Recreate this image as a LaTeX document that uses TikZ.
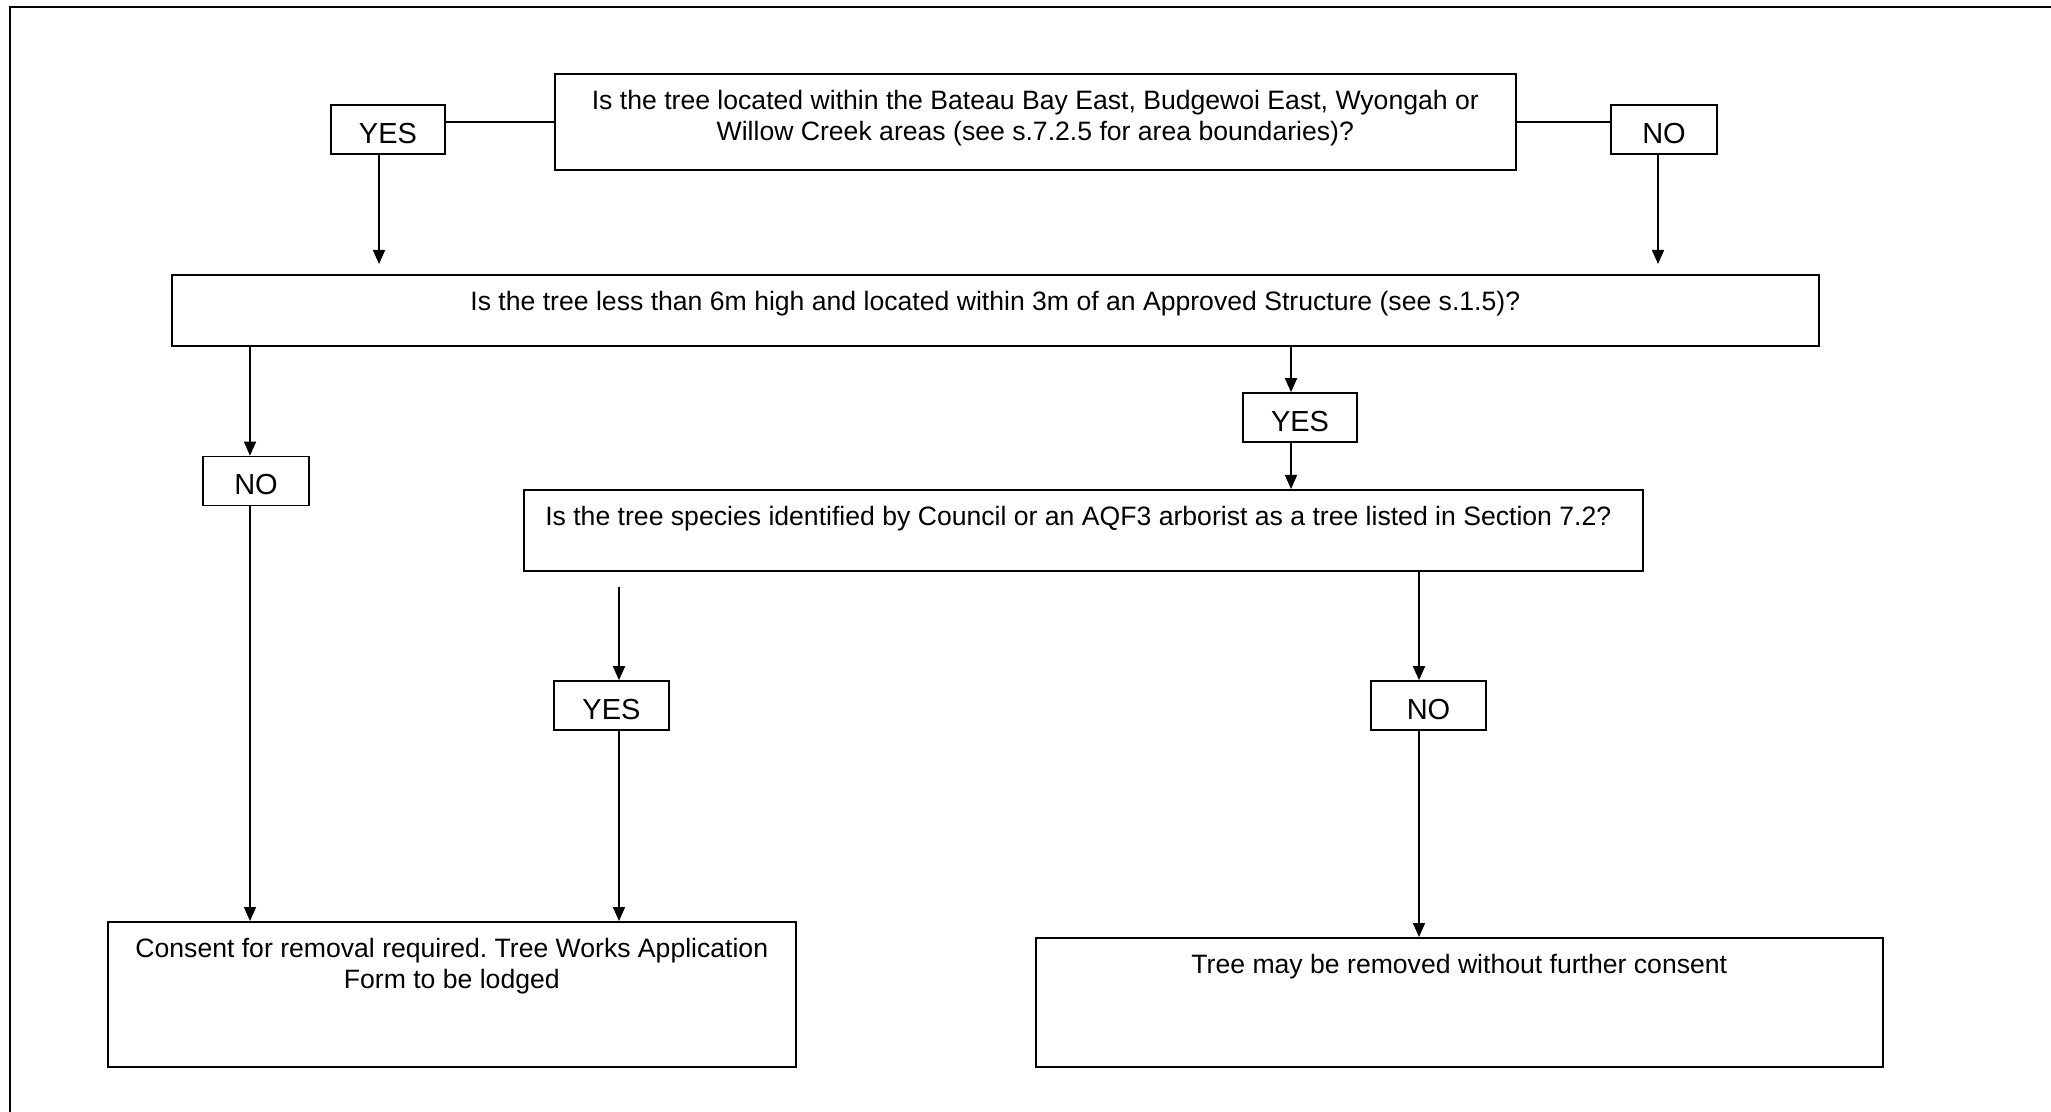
\documentclass[tikz,border=0pt]{standalone}
\usepackage{fontspec}
\setmainfont{Liberation Sans}
\usetikzlibrary{arrows.meta,positioning}
\frenchspacing

\tikzset{
    box/.style={draw, line width=0.8pt, anchor=north west, inner sep=0pt},
    boxtext/.style={anchor=north, align=center, font=\fontsize{13.3}{15.5}\selectfont},
    answer/.style={draw, line width=0.8pt, minimum height=24.5pt, text height=13.9pt, text depth=0pt, font=\fontsize{14.5}{16}\selectfont},
    flow/.style={line width=0.8pt, -{Triangle[length=7pt,width=6pt]}}
}

\begin{document}
\begin{tikzpicture}[x=0.5pt,y=-0.5pt]
    \useasboundingbox (0,0) rectangle (2051,1112);
    \draw[line width=0.8pt] (10,1112) -- (10,7) -- (2051,7);
    % questions
    \node[box, minimum width=480.5pt, minimum height=48pt] (q1) at (554,73) {};
    \node[boxtext] (q1text) at ([yshift=-5pt]q1.north) {Is the tree located within the Bateau Bay East, Budgewoi East, Wyongah or\\Willow Creek areas (see s.7.2.5 for area boundaries)?};
    \node[box, minimum width=823.5pt, minimum height=35.5pt] (q2) at (171,274) {};
    \node[boxtext] (q2text) at ([yshift=-5pt]q2.north) {Is the tree less than 6m high and located within 3m of an Approved Structure (see s.1.5)?};
    \node[box, minimum width=559.5pt, minimum height=40.5pt] (q3) at (523,489) {};
    \node[boxtext] (q3text) at ([yshift=-5pt,xshift=-2.5pt]q3.north) {Is the tree species identified by Council or an AQF3 arborist as a tree listed in Section 7.2?};
    % outcomes
    \node[box, minimum width=344pt, minimum height=72.5pt] (consent) at (107,921) {};
    \node[boxtext] (consenttext) at ([yshift=-5pt]consent.north) {Consent for removal required. Tree Works Application\\Form to be lodged};
    \node[box, minimum width=423.5pt, minimum height=64.5pt] (free) at (1035,937) {};
    \node[boxtext] (freetext) at ([yshift=-5pt]free.north) {Tree may be removed without further consent};
    % answers
    \node[answer, minimum width=57pt] (yes1) at (388,129.5) {YES};
    \node[answer, minimum width=53pt] (no1) at (1664,129.5) {NO};
    \node[answer, minimum width=53pt] (no2) at (256,481) {NO};
    \node[answer, minimum width=57pt] (yes2) at (1300,417.5) {YES};
    \node[answer, minimum width=57.5pt] (yes3) at (611.5,705.5) {YES};
    \node[answer, minimum width=57.5pt] (no3) at (1428.5,705.5) {NO};
    % connectors
    \draw[line width=0.8pt] (q1.west) -- (q1.west -| yes1.east);
    \draw[line width=0.8pt] (q1.east) -- (q1.east -| no1.west);
    \draw[flow, shorten >=5pt] ([xshift=-4.5pt]yes1.south) -- ([xshift=-4.5pt]yes1.south |- q2.north);
    \draw[flow, shorten >=5pt] ([xshift=-3pt]no1.south) -- ([xshift=-3pt]no1.south |- q2.north);
    \draw[flow] ([xshift=-3pt]no2.north |- q2.south) -- ([xshift=-3pt]no2.north);
    \draw[flow] ([xshift=-3pt]no2.south) -- ([xshift=-3pt]no2.south |- consent.north);
    \draw[flow] ([xshift=-4.5pt]yes2.north |- q2.south) -- ([xshift=-4.5pt]yes2.north);
    \draw[flow] ([xshift=-4.5pt]yes2.south) -- ([xshift=-4.5pt]yes2.south |- q3.north);
    \draw[flow, shorten <=7.5pt] ([xshift=3.75pt]yes3.north |- q3.south) -- ([xshift=3.75pt]yes3.north);
    \draw[flow] ([xshift=3.75pt]yes3.south) -- ([xshift=3.75pt]yes3.south |- consent.north);
    \draw[flow] ([xshift=-4.75pt]no3.north |- q3.south) -- ([xshift=-4.75pt]no3.north);
    \draw[flow] ([xshift=-4.75pt]no3.south) -- ([xshift=-4.75pt]no3.south |- free.north);
\end{tikzpicture}
\end{document}
